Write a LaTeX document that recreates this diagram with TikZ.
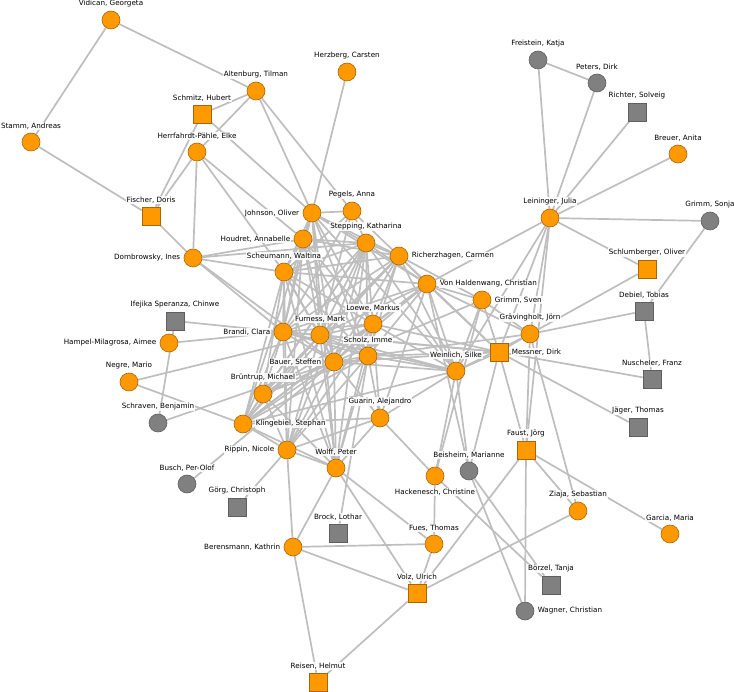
\documentclass[tikz,border=0pt]{standalone}
\usepackage{fontspec}
\setmainfont{DejaVu Sans}
\pgfdeclarelayer{edges}
\pgfsetlayers{edges,main}
\definecolor{orf}{RGB}{255,153,0}
\definecolor{ord}{RGB}{170,100,10}
\definecolor{grf}{RGB}{128,128,128}
\definecolor{grd}{RGB}{95,95,95}
\definecolor{edg}{RGB}{190,190,190}
\tikzset{
  base/.style={minimum size=18pt,inner sep=0pt,line width=0.6pt},
  oc/.style={base,circle,fill=orf,draw=ord},
  osq/.style={base,rectangle,fill=orf,draw=ord},
  gc/.style={base,circle,fill=grf,draw=grd},
  gsq/.style={base,rectangle,fill=grf,draw=grd},
  lab/.style={font=\fontsize{7.2}{8}\selectfont,fill=white,fill opacity=0.85,text opacity=1,inner sep=0.8pt},
  edge/.style={draw=edg,line width=1.7pt}
}
\begin{document}
\begin{tikzpicture}[x=1pt,y=-1pt,label distance=2.5pt]
\useasboundingbox (0,0) rectangle (734,692);
\node[oc,label={[lab]above:{Vidican, Georgeta}}] (vid) at (111,20) {};
\node[oc,label={[lab]above:{Altenburg, Tilman}}] (alt) at (256,91) {};
\node[oc,label={[lab]above:{Herzberg, Carsten}}] (her) at (347,72) {};
\node[osq,label={[lab]above:{Schmitz, Hubert}}] (smz) at (202,114) {};
\node[oc,label={[lab]above:{Stamm, Andreas}}] (stm) at (31,142) {};
\node[oc,label={[lab]above:{Herrfahrdt-Pähle, Elke}}] (hpe) at (197,152) {};
\node[osq,label={[lab]above:{Fischer, Doris}}] (fis) at (151,216) {};
\node[oc,label={[lab]left:{Johnson, Oliver}}] (joh) at (312,213) {};
\node[oc,label={[lab]above:{Pegels, Anna}}] (peg) at (352,211) {};
\node[oc,label={[lab]left:{Houdret, Annabelle}}] (hou) at (303,239) {};
\node[oc,label={[lab]above:{Stepping, Katharina}}] (stp) at (366,243) {};
\node[oc,label={[lab]above:{Scheumann, Waltina}}] (sch) at (284,272) {};
\node[oc,label={[lab]left:{Dombrowsky, Ines}}] (dom) at (193,258) {};
\node[oc,label={[lab]right:{Richerzhagen, Carmen}}] (ric) at (399,256) {};
\node[oc,label={[lab]right:{Von Haldenwang, Christian}}] (vhc) at (427,284) {};
\node[oc,label={[lab]above:{Leininger, Julia}}] (lei) at (550,218) {};
\node[gc,label={[lab]above:{Freistein, Katja}}] (fre) at (538,60) {};
\node[gc,label={[lab]above:{Peters, Dirk}}] (pet) at (597,83) {};
\node[gsq,label={[lab]above:{Richter, Solveig}}] (rsv) at (637,112) {};
\node[oc,label={[lab]above:{Breuer, Anita}}] (bre) at (678,154) {};
\node[gc,label={[lab]above:{Grimm, Sonja}}] (gso) at (710,221) {};
\node[osq,label={[lab]above:{Schlumberger, Oliver}}] (slb) at (647,269) {};
\node[gsq,label={[lab]above:{Debiel, Tobias}}] (deb) at (644,311) {};
\node[gsq,label={[lab]above:{Ifejika Speranza, Chinwe}}] (ife) at (175,321) {};
\node[oc,label={[lab]left:{Brandi, Clara}}] (bra) at (283,332) {};
\node[oc,label={[lab]left:{Hampel-Milagrosa, Aimee}}] (ham) at (169,343) {};
\node[oc,label={[lab]above:{Loewe, Markus}}] (loe) at (373,324) {};
\node[oc,label={[lab]right:{Grimm, Sven}}] (gsv) at (482,300) {};
\node[oc,label={[lab]above:{Furness, Mark}}] (fur) at (320,335) {};
\node[oc,label={[lab]above:{Scholz, Imme}}] (sco) at (368,356) {};
\node[oc,label={[lab]above:{Grävingholt, Jörn}}] (grv) at (530,334) {};
\node[osq,label={[lab]right:{Messner, Dirk}}] (mes) at (499,352) {};
\node[gsq,label={[lab]above:{Nuscheler, Franz}}] (nus) at (652,379) {};
\node[oc,label={[lab]above:{Negre, Mario}}] (neg) at (129,382) {};
\node[oc,label={[lab]above:{Weinlich, Silke}}] (wei) at (456,371) {};
\node[oc,label={[lab]left:{Bauer, Steffen}}] (bau) at (334,362) {};
\node[oc,label={[lab]above:{Brüntrup, Michael}}] (bru) at (263,394) {};
\node[gc,label={[lab]above:{Schraven, Benjamin}}] (scv) at (158,423) {};
\node[oc,label={[lab]above:{Guarin, Alejandro}}] (gua) at (380,418) {};
\node[oc,label={[lab]right:{Klingebiel, Stephan}}] (kli) at (243,424) {};
\node[gsq,label={[lab]above:{Jäger, Thomas}}] (jag) at (638,427) {};
\node[oc,label={[lab]left:{Rippin, Nicole}}] (rip) at (287,450) {};
\node[oc,label={[lab]above:{Wolff, Peter}}] (wol) at (336,468) {};
\node[gc,label={[lab]above:{Beisheim, Marianne}}] (bei) at (469,471) {};
\node[osq,label={[lab]above:{Faust, Jörg}}] (fau) at (526,450) {};
\node[oc,label={[lab]below:{Hackenesch, Christine}}] (hac) at (435,476) {};
\node[gc,label={[lab]above:{Busch, Per-Olof}}] (bus) at (187,484) {};
\node[gsq,label={[lab]above:{Görg, Christoph}}] (gor) at (237,507) {};
\node[oc,label={[lab]above:{Ziaja, Sebastian}}] (zia) at (578,511) {};
\node[oc,label={[lab]above:{Garcia, Maria}}] (gar) at (670,534) {};
\node[gsq,label={[lab]above:{Brock, Lothar}}] (bro) at (338,533) {};
\node[oc,label={[lab]left:{Berensmann, Kathrin}}] (ber) at (293,547) {};
\node[oc,label={[lab]above:{Fues, Thomas}}] (fue) at (434,544) {};
\node[gsq,label={[lab]above:{Börzel, Tanja}}] (boe) at (551,585) {};
\node[osq,label={[lab]above:{Volz, Ulrich}}] (vol) at (417,593) {};
\node[gc,label={[lab]right:{Wagner, Christian}}] (wag) at (525,611) {};
\node[osq,label={[lab]above:{Reisen, Helmut}}] (rei) at (318,682) {};
\begin{pgfonlayer}{edges}
\foreach \a/\b in {vid/stm,vid/alt,stm/fis,alt/smz,alt/hpe,alt/joh,alt/peg,smz/fis,smz/joh,
  hpe/fis,hpe/dom,hpe/hou,hpe/sch,fis/dom,her/joh,dom/hou,dom/sch,dom/stp,dom/bra,dom/bau,
  ife/bra,ife/scv,ham/bra,neg/fur,neg/kli,scv/bau,bus/bau,gor/rip,rip/ber,wol/ber,wol/vol,
  wol/fue,bro/sco,ber/fue,ber/vol,ber/rei,vol/rei,fue/vol,vol/fau,vol/zia,hac/fue,hac/wei,
  hac/gsv,gua/hac,bei/boe,bei/wag,hac/boe,fau/wag,fau/zia,fau/gar,grv/zia,mes/fau,grv/fau,
  mes/jag,mes/nus,grv/deb,grv/slb,deb/nus,gso/deb,lei/gso,lei/fre,lei/pet,lei/rsv,lei/bre,
  fre/pet,lei/slb,lei/vhc,lei/wei,lei/mes,lei/grv,lei/fau,mes/bei,wei/bei,vhc/bei}
  \draw[edge] (\a) -- (\b);
\foreach \a/\b in {joh/peg,joh/hou,joh/stp,joh/sch,joh/ric,joh/loe,joh/fur,joh/bra,joh/sco,
  joh/bau,joh/vhc,joh/wol,joh/wei,joh/kli,
  peg/stp,peg/ric,peg/sch,peg/fur,peg/bra,
  hou/stp,hou/sch,hou/ric,hou/loe,hou/fur,hou/bra,hou/bau,hou/sco,hou/rip,
  stp/ric,stp/sch,stp/vhc,stp/loe,stp/fur,stp/bra,stp/sco,stp/bau,stp/bru,stp/kli,stp/wol,
  stp/wei,stp/rip,
  sch/ric,sch/bra,sch/fur,sch/loe,sch/sco,sch/bau,sch/bru,sch/kli,sch/rip,sch/wol,sch/vhc,
  ric/vhc,ric/loe,ric/fur,ric/bra,ric/sco,ric/bau,ric/bru,ric/kli,ric/wei,ric/mes,ric/gsv,
  vhc/loe,vhc/sco,vhc/fur,vhc/bra,vhc/bau,vhc/wei,vhc/mes,vhc/gsv,vhc/grv,vhc/kli,vhc/gua,
  loe/fur,loe/bra,loe/sco,loe/bau,loe/bru,loe/kli,loe/rip,loe/wol,loe/wei,loe/mes,loe/gua,
  fur/bra,fur/sco,fur/bau,fur/bru,fur/kli,fur/rip,fur/wol,fur/wei,fur/mes,
  bra/sco,bra/bau,bra/bru,bra/kli,bra/rip,bra/wol,bra/wei,bra/mes,
  sco/bau,sco/bru,sco/kli,sco/rip,sco/wol,sco/wei,sco/mes,sco/grv,sco/gua,
  bau/bru,bau/kli,bau/rip,bau/wol,bau/wei,bau/mes,bau/gua,bau/gsv,
  bru/kli,bru/rip,bru/wol,kli/rip,kli/wol,kli/gua,kli/wei,rip/wol,rip/gua,wol/gua,
  wei/mes,wei/grv,wei/gsv,wei/gua,mes/gsv,mes/grv,gsv/grv}
  \draw[edge] (\a) -- (\b);
\end{pgfonlayer}
\end{tikzpicture}
\end{document}
